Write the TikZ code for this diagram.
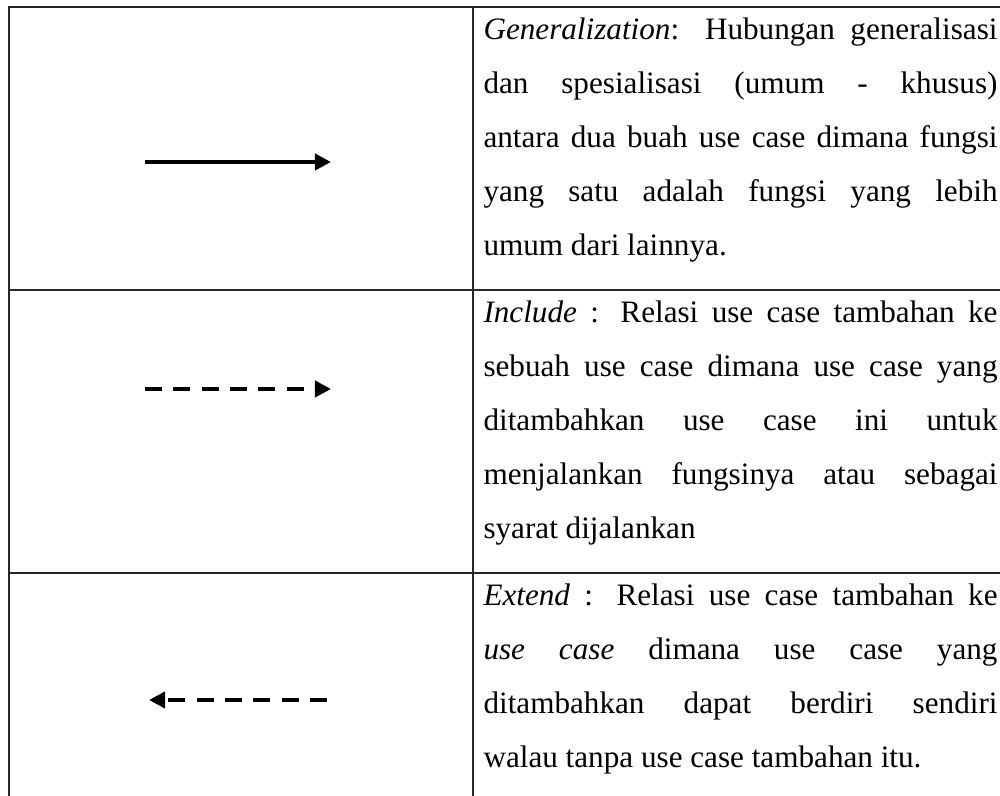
\documentclass[tikz,border=0pt]{standalone}
\usepackage{fontspec}
\setmainfont{Liberation Serif}
\usepackage{tikz}
\usetikzlibrary{arrows.meta}

\newcommand{\fullline}[1]{\makebox[197.9pt][s]{#1}}

\begin{document}
\begin{tikzpicture}[x=0.385pt,y=-0.385pt,
  rule/.style={draw=black!85,line width=0.5pt},
  txt/.style={anchor=base west,inner sep=0pt,font=\fontsize{12pt}{14pt}\selectfont},
  relarrow/.style={line width=1.5pt,-{Triangle[length=6.2pt,width=6.2pt]}},
  reldash/.style={relarrow,dash pattern=on 6.6pt off 4.3pt}]
\useasboundingbox (0,0) rectangle (1000,796);
\clip (0,0) rectangle (1000,796);
% table grid
\draw[rule] (9,7) rectangle (1010,802);
\draw[rule] (473,7) -- (473,802);
\draw[rule] (9,290) -- (1010,290);
\draw[rule] (9,573) -- (1010,573);

% generalization row
\foreach \i/\t in {1/{\fullline{\textit{Generalization}: Hubungan generalisasi}},
                   2/{\fullline{dan spesialisasi (umum - khusus)}},
                   3/{\fullline{antara dua buah use case dimana fungsi}},
                   4/{\fullline{yang satu adalah fungsi yang lebih}},
                   5/{umum dari lainnya.}}
  \node[txt] (gen\i) at (483,{40+(\i-1)*53.8}) {\t};

% include row
\foreach \i/\t in {1/{\fullline{\textit{Include} : Relasi use case tambahan ke}},
                   2/{\fullline{sebuah use case dimana use case yang}},
                   3/{\fullline{ditambahkan use case ini untuk}},
                   4/{\fullline{menjalankan fungsinya atau sebagai}},
                   5/{syarat dijalankan}}
  \node[txt] (inc\i) at (483,{323+(\i-1)*53.8}) {\t};

% extend row
\foreach \i/\t in {1/{\fullline{\textit{Extend} : Relasi use case tambahan ke}},
                   2/{\fullline{\textit{use case} dimana use case yang}},
                   3/{\fullline{ditambahkan dapat berdiri sendiri}},
                   4/{walau tanpa use case tambahan itu.}}
  \node[txt] (ext\i) at (483,{606+(\i-1)*53.8}) {\t};

% relation symbols
\coordinate (genL) at (145,162);
\coordinate (genR) at (331,162);
\draw[relarrow] (genL) -- (genR);
\coordinate (incL) at (145,389);
\coordinate (incR) at (331,389);
\draw[reldash] (incL) -- (incR);
\coordinate (extL) at (149,700);
\coordinate (extR) at (327,700);
\draw[reldash] (extR) -- (extL);
\end{tikzpicture}
\end{document}
